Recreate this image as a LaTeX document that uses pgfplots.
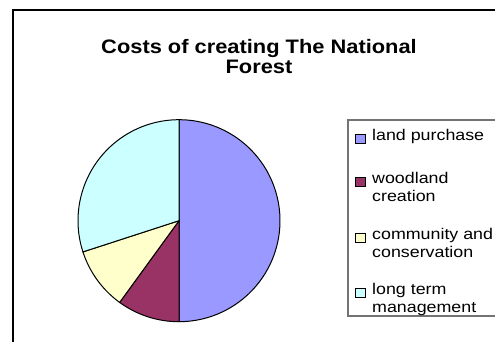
\documentclass[border=0pt]{standalone}
\usepackage{pgfplots}
\pgfplotsset{compat=1.18}
\usepackage{fontspec}
\setmainfont[FakeStretch=1.12]{Liberation Sans}
\newfontfamily\legfont[FakeStretch=1.15]{Liberation Sans}
\definecolor{landc}{HTML}{9999FF}
\definecolor{woodc}{HTML}{993366}
\definecolor{commc}{HTML}{FFFFCC}
\definecolor{longc}{HTML}{CCFFFF}
% #1 start angle, #2 share in percent, #3 colour
\newcommand\slice[3]{%
  \pgfmathsetmacro\sa{#1}%
  \pgfmathsetmacro\sb{#1-3.6*#2}%
  \edef\temp{\noexpand\addplot[draw=black, line width=1bp, fill=#3, domain=\sb:\sa, samples=90]
    ({cos(x)},{sin(x)}) -- (axis cs:0,0) -- cycle;}%
  \temp}
\begin{document}
\begin{tikzpicture}[x=1bp,y=1bp]
\useasboundingbox (0,0) rectangle (495,342);
\fill[white] (0,0) rectangle (495,342);
\draw[line width=1.6bp] (13,0) -- (13,332) -- (495,332);
% legend frame
\draw[draw=black!55, line width=1.2bp] (495,222) -- (348,222) -- (348,26) -- (495,26);
\node[anchor=base, inner sep=0pt, font=\bfseries\fontsize{19.5bp}{20bp}\selectfont] at (259,289) {Costs of creating The National};
\node[anchor=base, inner sep=0pt, font=\bfseries\fontsize{19.5bp}{20bp}\selectfont] at (259,269) {Forest};
\begin{axis}[
  at={(179bp,121.3bp)}, anchor=center,
  scale only axis, width=202bp, height=202bp,
  xmin=-1, xmax=1, ymin=-1, ymax=1,
  hide axis, clip=false,
]
\slice{90}{50}{landc}
\slice{-90}{10}{woodc}
\slice{-126}{10}{commc}
\slice{-162}{30}{longc}
\end{axis}
\begin{scope}[every node/.style={anchor=base west, inner sep=0pt, font=\legfont\fontsize{15.5bp}{18bp}\selectfont}]
\draw[fill=landc, line width=0.8bp] (355.5,199) rectangle (365.5,207.7);
\node at (372,202) {land purchase};
\draw[fill=woodc, line width=0.8bp] (355.5,156) rectangle (365.5,164.7);
\node at (372,159) {woodland};
\node at (372,141) {creation};
\draw[fill=commc, line width=0.8bp] (355.5,100) rectangle (365.5,108.7);
\node at (372,103) {community and};
\node at (372,85) {conservation};
\draw[fill=longc, line width=0.8bp] (355.5,45) rectangle (365.5,53.7);
\node at (372,48) {long term};
\node at (372,30) {management};
\end{scope}
\end{tikzpicture}
\end{document}
